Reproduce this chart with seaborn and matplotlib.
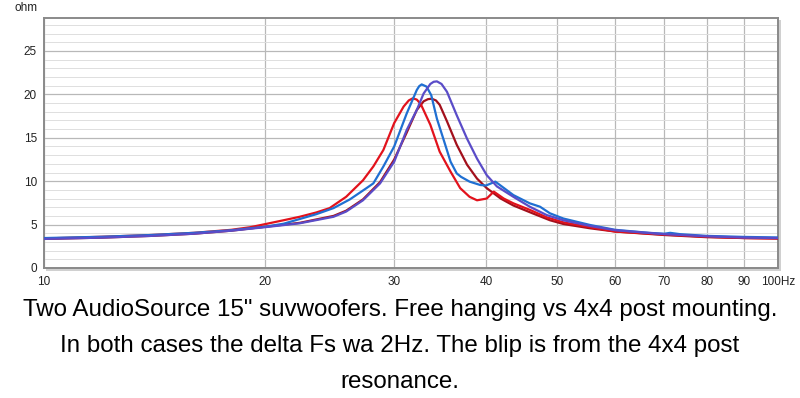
import numpy as np
import pandas as pd
import seaborn as sns
import matplotlib.pyplot as plt
from matplotlib.patches import Rectangle
from matplotlib.ticker import FixedLocator, MultipleLocator, NullLocator

# -------- DATA --------
red_hz = [10, 12, 14, 16, 18, 19.1, 20, 21.2, 22.3, 23.5, 24.5, 25.8, 27.2, 28.1, 29.0, 30.0,
          30.9, 31.4, 31.8, 32.2, 32.6, 33.6, 34.6, 35.8, 36.9, 38.0, 38.9, 40.1, 41.0,
          42.3, 43.6, 45.9, 48.4, 51.0, 55.5, 60, 70, 80, 90, 100]
red_ohm = [3.4, 3.6, 3.8, 4.05, 4.4, 4.7, 5.05, 5.5, 5.9, 6.4, 6.9, 8.2, 10.1, 11.7, 13.6, 16.7,
           18.6, 19.3, 19.55, 19.4, 18.9, 16.5, 13.4, 11.1, 9.2, 8.2, 7.8, 8.0, 8.8,
           8.0, 7.45, 6.7, 5.84, 5.26, 4.7, 4.2, 3.85, 3.6, 3.45, 3.4]

darkred_hz = [10, 12, 14, 16, 18, 20, 22.3, 24.8, 25.8, 27.2, 28.7, 30.0, 31.2, 32.2, 32.9,
              33.35, 33.75, 34.2, 34.6, 35.4, 36.5, 37.7, 38.9, 40.1, 41.9, 43.6, 46.3, 48.9,
              51.0, 55.5, 60, 70, 80, 90, 100]
darkred_ohm = [3.35, 3.5, 3.7, 3.95, 4.3, 4.75, 5.2, 6.0, 6.6, 7.9, 9.9, 12.5, 15.6, 18.2, 19.2,
               19.45, 19.5, 19.3, 18.8, 16.9, 14.2, 11.9, 10.3, 9.2, 8.0, 7.2, 6.3, 5.5,
               5.07, 4.57, 4.2, 3.8, 3.55, 3.45, 3.4]

blue_hz = [10, 12, 14, 16, 18, 20, 21.2, 23.5, 24.8, 26.1, 27.5, 28.1, 29.0, 30.0, 31.2, 32.2,
           32.45, 32.7, 33.2, 33.7, 34.3, 35.1, 35.8, 36.5, 37.0, 38.0, 39.3, 40.0, 41.2, 43.6,
           45.9, 47.4, 48.9, 51.0, 55.5, 60, 66.7, 70, 71.3, 73.5, 80, 90, 100]
blue_ohm = [3.45, 3.6, 3.8, 4.05, 4.35, 4.75, 5.1, 6.2, 6.9, 7.9, 9.2, 9.75, 11.7, 14.0, 17.8, 20.5,
            20.95, 21.15, 20.9, 19.9, 17.2, 14.55, 12.25, 10.9, 10.5, 9.95, 9.56, 9.5, 9.95, 8.4,
            7.45, 7.06, 6.3, 5.7, 4.95, 4.4, 4.05, 3.95, 4.05, 3.9, 3.7, 3.58, 3.52]

purple_hz = [10, 12, 14, 16, 18, 20, 22.3, 24.8, 25.8, 27.2, 28.7, 30.0, 31.2, 32.2, 32.9,
             33.6, 33.95, 34.3, 34.8, 35.4, 36.5, 37.7, 38.9, 40.1, 41.4, 43.6, 45.9, 48.4,
             51.0, 55.5, 60, 70, 80, 90, 100]
purple_ohm = [3.35, 3.5, 3.7, 3.95, 4.3, 4.7, 5.15, 5.9, 6.5, 7.8, 9.75, 12.25, 15.9, 18.2, 20.1,
              21.2, 21.45, 21.5, 21.2, 20.3, 17.6, 14.9, 12.6, 10.7, 9.4, 8.2, 7.06, 6.1,
              5.5, 4.84, 4.35, 3.9, 3.65, 3.5, 3.45]

x_ticks = [10, 20, 30, 40, 50, 60, 70, 80, 90, 100]
x_labels = ["10", "20", "30", "40", "50", "60", "70", "80", "90", "100Hz"]
y_ticks = [0, 5, 10, 15, 20, 25]

caption = ['Two AudioSource 15" suvwoofers. Free hanging vs 4x4 post mounting.',
           "In both cases the delta Fs wa 2Hz. The blip is from the 4x4 post",
           "resonance."]

curves = [(darkred_hz, darkred_ohm, "#a3101c"),
          (red_hz, red_ohm, "#e2121c"),
          (blue_hz, blue_ohm, "#1f6fd2"),
          (purple_hz, purple_ohm, "#5a4cc8")]

# -------- PLOT --------
sns.set_style("white")
plt.rcParams["font.family"] = ["Liberation Sans", "DejaVu Sans"]

fig = plt.figure(figsize=(8, 3.98), dpi=100)
ax = fig.add_axes([44 / 800, 1 - 268 / 398, 734 / 800, 250 / 398])
ax.set_zorder(2)

# drop shadow behind the frame
fig.patches.append(Rectangle((46 / 800, 1 - 271 / 398), 735 / 800, 251 / 398,
                             transform=fig.transFigure, facecolor="#d0d0d0",
                             edgecolor="none", zorder=-1))

for hz, ohm, col in curves:
    df = pd.DataFrame({"hz": hz, "ohm": ohm})
    sns.lineplot(data=df, x="hz", y="ohm", ax=ax, color=col, lw=1.6,
                 sort=False, estimator=None, zorder=3)

ax.set_xscale("log")
ax.set_xlim(10, 100)
ax.set_ylim(0, 28.8)
ax.xaxis.set_major_locator(FixedLocator(x_ticks))
ax.xaxis.set_minor_locator(NullLocator())
ax.set_xticklabels(x_labels)
ax.yaxis.set_major_locator(FixedLocator(y_ticks))
ax.yaxis.set_minor_locator(MultipleLocator(1))

ax.grid(which="major", color="#b8b8b8", lw=0.9)
ax.grid(which="minor", axis="y", color="#dedede", lw=0.7)
ax.set_axisbelow(True)
ax.tick_params(length=0, labelsize=8.5, colors="#222222")
ax.tick_params(axis="x", pad=6)
ax.tick_params(axis="y", pad=5)
ax.set_xlabel("")
ax.set_ylabel("")
for s in ax.spines.values():
    s.set_color("#8a8a8a")
    s.set_linewidth(1.4)

fig.text(14 / 800, 1 - 8 / 398, "ohm", fontsize=8.5, color="#222222", va="center")

for i, line in enumerate(caption):
    fig.text(0.5, 1 - (316 + 36 * i) / 398, line, ha="center", va="baseline",
             fontsize=17.4, color="black")

plt.savefig("out.png", dpi=100)
